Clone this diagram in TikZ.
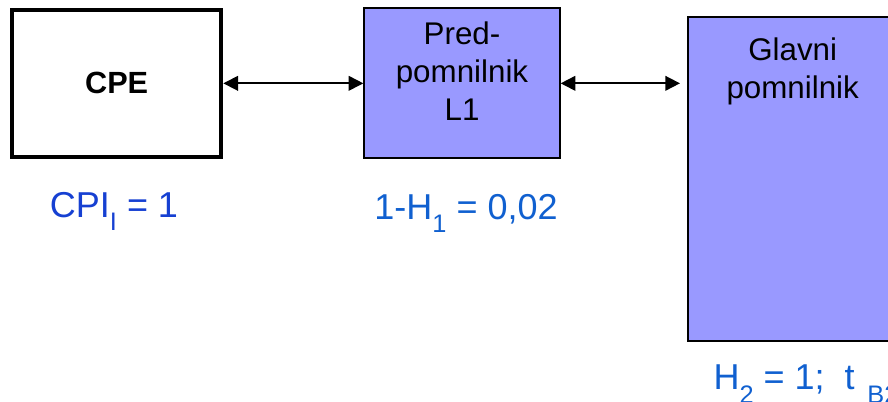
\documentclass[tikz,border=0pt]{standalone}
\usepackage{fontspec}
\setmainfont{Liberation Sans}
\usetikzlibrary{arrows.meta,positioning}
\definecolor{lilac}{HTML}{9999FF}
\definecolor{labelblue}{HTML}{1640D2}
\definecolor{labelsky}{HTML}{1060D0}
\newcommand{\idx}[1]{\raisebox{-10pt}{\fontsize{19}{19}\selectfont #1}}
\tikzset{
  mbox/.style={draw=black, line width=1.5pt, fill=lilac, inner sep=0pt},
  mboxcpu/.style={draw=black, fill=white, line width=3pt, font=\fontsize{23}{28}\selectfont\bfseries, minimum width=157pt, minimum height=110pt},
  mtext/.style={font=\fontsize{23.5}{28.5}\selectfont, align=center, inner sep=0pt},
  marrow/.style={{Triangle[length=11pt,width=11pt]}-{Triangle[length=11pt,width=11pt]}, line width=1.3pt},
  mlabel/.style={font=\fontsize{27}{31}\selectfont, text=labelblue, inner sep=0pt},
  mlabelsky/.style={mlabel, text=labelsky},
}

\begin{document}
\begin{tikzpicture}
  \useasboundingbox (0,0) rectangle (666pt,-301.5pt);
  \clip (0,0) rectangle (666pt,-301.5pt);
  \node[mboxcpu, anchor=north west] (cpe) at (7.5pt,-6pt) {CPE};
  \node[mbox, minimum width=146.5pt, minimum height=112.5pt, right=105pt of cpe,
        label={[mtext, yshift=9pt]center:Pred-\\pomnilnik\\L1}] (l1) {};
  \node[mbox, minimum width=157.5pt, minimum height=243pt, anchor=north west,
        label={[mtext, anchor=north, yshift=-16.5pt]north:Glavni\\pomnilnik}] (mem) at ([xshift=94.5pt, yshift=-6.4pt]l1.north east) {};
  \draw[marrow] (cpe.east) -- (cpe.east -| l1.west);
  \draw[marrow] (l1.east) -- ([xshift=-5pt]l1.east -| mem.west);
  \node[mlabel, below=44pt of cpe.south, anchor=base, xshift=-2pt] (cpi) {CPI\idx{I} = 1};
  \node[mlabelsky, below=45pt of l1.south, anchor=base, xshift=3pt] (miss) {1-H\idx{1} = 0,02};
  \node[mlabelsky, anchor=base west] (hit) at ([xshift=20pt, yshift=-36pt]mem.south west) {H\idx{2} = 1;\ \ t \hspace{2pt}\idx{B2}};
\end{tikzpicture}
\end{document}
